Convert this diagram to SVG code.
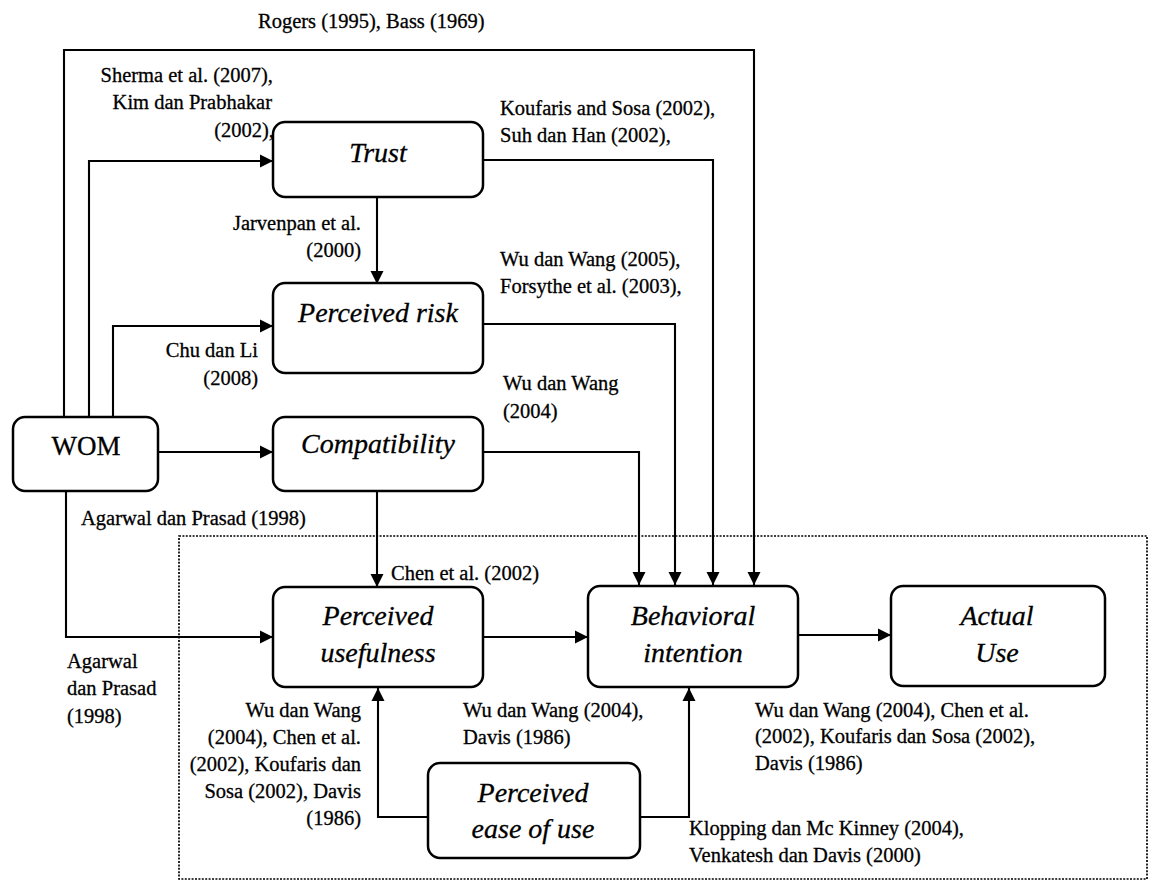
<svg xmlns="http://www.w3.org/2000/svg" width="1157" height="883" viewBox="0 0 1157 883" font-family="Liberation Serif, Times New Roman, serif">
  <style>
    text { fill: #000; stroke: #000; stroke-width: 0.3; }
    .box { fill: none; stroke: #000; stroke-width: 2.5; }
    .lbl { font-size: 28px; font-style: italic; text-anchor: middle; }
    .wom { font-size: 27px; text-anchor: middle; }
    .ref { font-size: 20.5px; }
    .end { text-anchor: end; }
    .edge { fill: none; stroke: #000; stroke-width: 2.1; marker-end: url(#arrow); }
    .frame { fill: none; stroke: #000; stroke-width: 1.7; stroke-dasharray: 2 1.4; }
  </style>
  <defs>
    <marker id="arrow" markerUnits="userSpaceOnUse" markerWidth="14" markerHeight="14" refX="13" refY="7" orient="auto">
      <path d="M0,0.5 L13,7 L0,13.5 z" fill="#000"/>
    </marker>
  </defs>

  <rect width="1157" height="883" fill="#fff"/>

  <!-- dotted boundary around the core model -->
  <rect id="core-frame" class="frame" x="179" y="536" width="968" height="343"/>

  <!-- connectors -->
  <g id="connectors">
    <path class="edge" d="M64,417 V50 H754 V585"/>
    <path class="edge" d="M89,417 V161 H273"/>
    <path class="edge" d="M483,160 H713 V585"/>
    <path class="edge" d="M377,197 V284"/>
    <path class="edge" d="M113,417 V326 H273"/>
    <path class="edge" d="M158,452 H273"/>
    <path class="edge" d="M483,324 H675 V585"/>
    <path class="edge" d="M483,452 H639 V585"/>
    <path class="edge" d="M377,491 V587"/>
    <path class="edge" d="M66,491 V637 H273"/>
    <path class="edge" d="M483,637 H588"/>
    <path class="edge" d="M797,635 H891"/>
    <path class="edge" d="M428,817 H378 V688"/>
    <path class="edge" d="M640,817 H689 V688"/>
  </g>

  <!-- nodes -->
  <g id="node-wom">
    <rect class="box" x="13" y="417" width="145" height="74" rx="12"/>
    <text class="wom" x="86" y="455">WOM</text>
  </g>
  <g id="node-trust">
    <rect class="box" x="273" y="122" width="210" height="75" rx="12"/>
    <text class="lbl" x="378" y="162">Trust</text>
  </g>
  <g id="node-risk">
    <rect class="box" x="273" y="283" width="210" height="90" rx="12"/>
    <text class="lbl" x="378" y="322">Perceived risk</text>
  </g>
  <g id="node-compat">
    <rect class="box" x="273" y="417" width="210" height="74" rx="12"/>
    <text class="lbl" x="378" y="453">Compatibility</text>
  </g>
  <g id="node-pu">
    <rect class="box" x="273" y="587" width="210" height="100" rx="12"/>
    <text class="lbl" x="378" y="625">Perceived</text>
    <text class="lbl" x="378" y="662">usefulness</text>
  </g>
  <g id="node-bi">
    <rect class="box" x="588" y="586" width="210" height="101" rx="12"/>
    <text class="lbl" x="693" y="625">Behavioral</text>
    <text class="lbl" x="693" y="662">intention</text>
  </g>
  <g id="node-au">
    <rect class="box" x="891" y="586" width="214" height="100" rx="12"/>
    <text class="lbl" x="997" y="625">Actual</text>
    <text class="lbl" x="997" y="662">Use</text>
  </g>
  <g id="node-peou">
    <rect class="box" x="428" y="763" width="212" height="95" rx="12"/>
    <text class="lbl" x="533" y="802">Perceived</text>
    <text class="lbl" x="533" y="838">ease of use</text>
  </g>

  <!-- citation labels -->
  <g id="citations">
    <text class="ref" x="258" y="28">Rogers (1995), Bass (1969)</text>

    <text class="ref end" x="273" y="82">Sherma et al. (2007),</text>
    <text class="ref end" x="272" y="109">Kim dan Prabhakar</text>
    <text class="ref end" x="274" y="137">(2002),</text>

    <text class="ref" x="500" y="115">Koufaris and Sosa (2002),</text>
    <text class="ref" x="500" y="142">Suh dan Han (2002),</text>

    <text class="ref end" x="361" y="230">Jarvenpan et al.</text>
    <text class="ref end" x="361" y="257">(2000)</text>

    <text class="ref" x="500" y="266">Wu dan Wang (2005),</text>
    <text class="ref" x="500" y="293">Forsythe et al. (2003),</text>

    <text class="ref end" x="258" y="357">Chu dan Li</text>
    <text class="ref end" x="258" y="385">(2008)</text>

    <text class="ref" x="503" y="390">Wu dan Wang</text>
    <text class="ref" x="503" y="418">(2004)</text>

    <text class="ref" x="81" y="525">Agarwal dan Prasad (1998)</text>

    <text class="ref" x="391" y="580">Chen et al. (2002)</text>

    <text class="ref" x="67" y="668">Agarwal</text>
    <text class="ref" x="67" y="695">dan Prasad</text>
    <text class="ref" x="67" y="723">(1998)</text>

    <text class="ref end" x="361" y="717">Wu dan Wang</text>
    <text class="ref end" x="361" y="744">(2004), Chen et al.</text>
    <text class="ref end" x="361" y="771">(2002), Koufaris dan</text>
    <text class="ref end" x="361" y="798">Sosa (2002), Davis</text>
    <text class="ref end" x="361" y="825">(1986)</text>

    <text class="ref" x="463" y="717">Wu dan Wang (2004),</text>
    <text class="ref" x="463" y="744">Davis (1986)</text>

    <text class="ref" x="755" y="717">Wu dan Wang (2004), Chen et al.</text>
    <text class="ref" x="755" y="743">(2002), Koufaris dan Sosa (2002),</text>
    <text class="ref" x="755" y="770">Davis (1986)</text>

    <text class="ref" x="689" y="835">Klopping dan Mc Kinney (2004),</text>
    <text class="ref" x="689" y="862">Venkatesh dan Davis (2000)</text>
  </g>
</svg>
